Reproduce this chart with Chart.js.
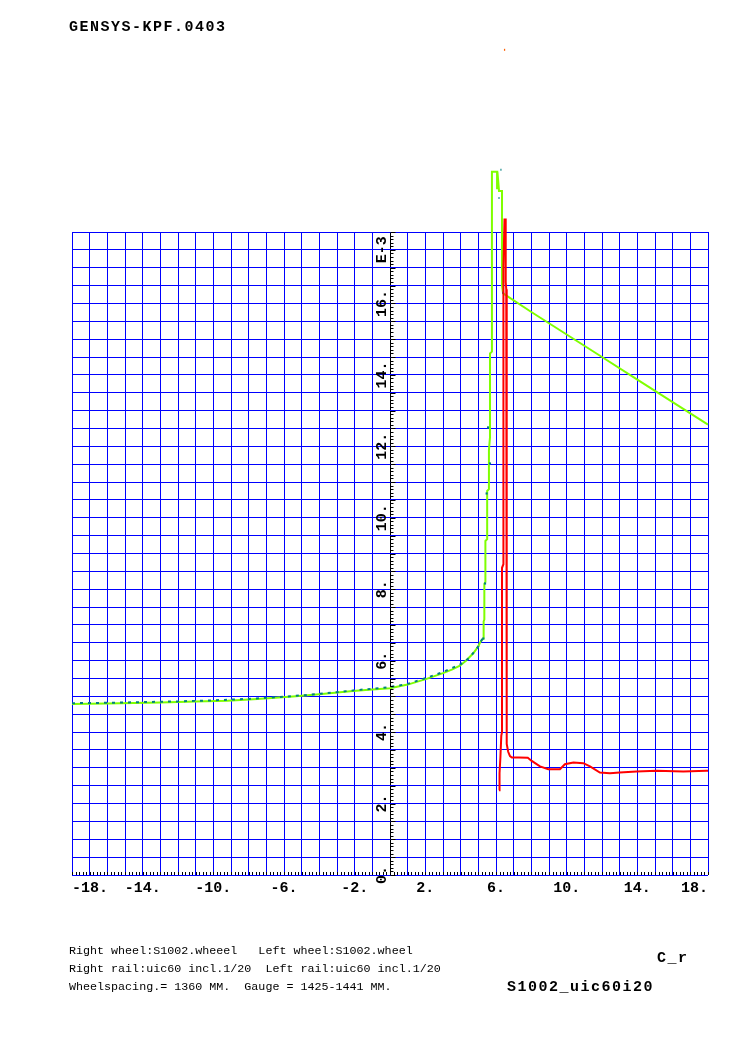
<!DOCTYPE html>
<html>
<head>
<meta charset="utf-8">
<script src="https://cdn.jsdelivr.net/npm/chart.js@4/dist/chart.umd.min.js"></script>
<style>
html,body{margin:0;padding:0;background:#fff;}
#wrap{width:744px;height:1052px;position:relative;}
canvas{display:block;}
</style>
</head>
<body>
<div id="wrap"><canvas id="c" width="744" height="1052"></canvas></div>
<script>
// ---- texts ----
const titleText = 'GENSYS-KPF.0403';
const footerLines = [
  'Right wheel:S1002.wheeel   Left wheel:S1002.wheel',
  'Right rail:uic60 incl.1/20  Left rail:uic60 incl.1/20',
  'Wheelspacing.= 1360 MM.  Gauge = 1425-1441 MM.'
];
const quantityLabel = 'C_r';
const caseLabel = 'S1002_uic60i20';

// ---- tick labels ----
const xTickLabels = [-18, -14, -10, -6, -2, 2, 6, 10, 14, 18];
const yTickLabels = [0, 2, 4, 6, 8, 10, 12, 14, 16];
const yExponentLabel = 'E-3';
const yExponentAt = 17.5;

// ---- series: green (lime) curve ----
const greenX = [-18,-16,-13,-11,-9.2,-7.5,-5.5,-4,-2.1,-1,0,1,2.07,3,3.5,3.96,4.3,4.7,5,5.09,5.2,5.28,5.3,5.34,5.34,5.4,5.4,5.5,5.5,5.6,5.6,5.66,5.66,5.77,5.77,6.06,6.06,6.12,6.17,6.34,6.34,6.4,8,10,12,14,16,18];
const greenY = [4.79,4.8,4.83,4.86,4.88,4.93,5.0,5.06,5.15,5.19,5.23,5.33,5.49,5.65,5.75,5.86,6.0,6.2,6.4,6.5,6.58,6.62,7.1,7.15,8.15,8.2,9.35,9.4,10.75,10.8,11.9,12.25,14.6,14.65,19.69,19.69,19.2,19.45,19.15,19.15,16.5,16.28,15.76,15.13,14.5,13.87,13.24,12.61];

// ---- series: teal dotted curve ----
const tealX = [-18,-16,-14,-12,-10,-8,-6,-4,-2,0,1,2,3,4,4.5,5,5.3];
const tealY = [4.81,4.82,4.84,4.86,4.89,4.93,4.99,5.07,5.17,5.26,5.35,5.51,5.68,5.9,6.08,6.4,6.68];
const tealMarkX = [5.28,5.38,5.47,5.66,5.55,6.4];
const tealMarkY = [6.62,8.16,10.68,11.52,12.53,16.3];
// teal marks above the frame (short strokes, gaps between)
const tealTopX = [6.14,6.2,null,6.25,6.31];
const tealTopY = [18.95,18.95,null,19.74,19.74];

// ---- series: red curve ----
const redX = [6.17,6.2,6.25,6.3,6.34,6.34,6.42,6.42,6.48,6.55,6.55,6.58,6.58,6.62,6.62,6.69,6.79,6.9,7.3,7.8,8.0,8.49,8.96,9.62,9.9,10.38,10.94,11.32,11.88,12.45,13.0,13.96,15.09,16.6,17.92,18];
const redY = [2.37,2.85,3.3,3.9,4.0,8.6,8.7,17.0,18.35,18.35,16.6,16.4,7.4,7.35,3.67,3.45,3.33,3.29,3.29,3.28,3.2,3.04,2.96,2.96,3.1,3.15,3.13,3.04,2.87,2.85,2.87,2.9,2.92,2.9,2.92,2.92];
// stray red mark far above the frame
const strayX = [6.45,6.52];
const strayY = [23.1,23.1];

const pts = (xs, ys) => xs.map((v, i) => ({x: v, y: ys[i]}));

const MONO = '"Liberation Mono", "DejaVu Sans Mono", monospace';

const overlay = {
  id: 'overlay',
  afterDatasetsDraw(chart) {
    const {ctx, chartArea: a, scales: {x, y}} = chart;
    const x0 = Math.round(x.getPixelForValue(0)) + 0.5;
    ctx.save();
    ctx.strokeStyle = '#000';
    ctx.lineWidth = 1;
    ctx.beginPath();
    for (let i = -90; i <= 90; i++) {
      const px = Math.round(x.getPixelForValue(i / 5)) + 0.5;
      ctx.moveTo(px, a.bottom);
      ctx.lineTo(px, a.bottom - 3);
    }
    for (let i = 0; i <= 180; i++) {
      const py = Math.round(y.getPixelForValue(i / 10)) + 0.5;
      const len = (i % 5 === 0) ? 5 : 3;
      ctx.moveTo(x0, py);
      ctx.lineTo(x0 + len, py);
    }
    ctx.stroke();

    ctx.fillStyle = '#000';
    ctx.font = 'bold 15px ' + MONO;
    ctx.textAlign = 'center';
    ctx.textBaseline = 'alphabetic';
    const drawY = (t, v) => {
      ctx.save();
      ctx.translate(x0 - 5, y.getPixelForValue(v));
      ctx.rotate(-Math.PI / 2);
      ctx.fillText(t, 0, 0);
      ctx.restore();
    };
    yTickLabels.forEach(v => drawY(v + '.', v));
    drawY(yExponentLabel, yExponentAt);
    ctx.restore();
  },
  afterDraw(chart) {
    const ctx = chart.ctx;
    ctx.save();
    ctx.fillStyle = '#000';
    ctx.textAlign = 'left';
    ctx.textBaseline = 'alphabetic';
    ctx.font = 'bold 15px ' + MONO;
    try { ctx.letterSpacing = '1.5px'; } catch (e) {}
    ctx.fillText(titleText, 69, 31);
    ctx.fillText(quantityLabel, 657, 962);
    ctx.fillText(caseLabel, 507, 991);
    try { ctx.letterSpacing = '0px'; } catch (e) {}
    ctx.font = '11.7px ' + MONO;
    footerLines.forEach((t, i) => ctx.fillText(t, 69, 954 + i * 18));
    ctx.restore();
  }
};

new Chart(document.getElementById('c'), {
  type: 'scatter',
  data: {
    datasets: [
      {label: 'stray', data: pts(strayX, strayY), showLine: true, borderColor: '#ff6000', borderWidth: 2,
       pointRadius: 0, clip: false},
      {label: 'red', data: pts(redX, redY), showLine: true, borderColor: '#ff0000', borderWidth: 2,
       pointRadius: 0, tension: 0, clip: false},
      {label: 'teal marks', data: pts(tealMarkX, tealMarkY), showLine: false, pointStyle: 'rect', pointRadius: 1.5,
       backgroundColor: '#008080', borderColor: '#008080', borderWidth: 0, clip: false},
      {label: 'teal top', data: pts(tealTopX, tealTopY), showLine: true, spanGaps: false, borderColor: '#008080',
       borderWidth: 2, pointRadius: 0, clip: false},
      {label: 'teal', data: pts(tealX, tealY), showLine: true, borderColor: '#008080', borderWidth: 2,
       borderDash: [3, 5], pointRadius: 0, tension: 0, clip: false},
      {label: 'green', data: pts(greenX, greenY), showLine: true, borderColor: '#7fff00', borderWidth: 2,
       pointRadius: 0, tension: 0, clip: false}
    ]
  },
  options: {
    responsive: false,
    animation: false,
    devicePixelRatio: 1,
    layout: {padding: {left: 72, right: 36, top: 232, bottom: 151}},
    plugins: {legend: {display: false}, tooltip: {enabled: false}},
    scales: {
      x: {
        type: 'linear', min: -18, max: 18,
        grid: {color: c => (c.tick && c.tick.value === 0) ? '#000000' : '#0000ff', lineWidth: 1, drawTicks: false},
        border: {display: false},
        ticks: {
          stepSize: 1, autoSkip: false, maxRotation: 0, minRotation: 0, align: 'inner', padding: 4,
          color: '#000', font: {family: MONO, size: 15, weight: 'bold'},
          callback: v => xTickLabels.includes(v) ? v + '.' : ''
        }
      },
      y: {
        type: 'linear', min: 0, max: 18,
        grid: {color: '#0000ff', lineWidth: 1, drawTicks: false},
        border: {display: false},
        ticks: {stepSize: 0.5, display: false}
      }
    }
  },
  plugins: [overlay]
});
</script>
</body>
</html>
